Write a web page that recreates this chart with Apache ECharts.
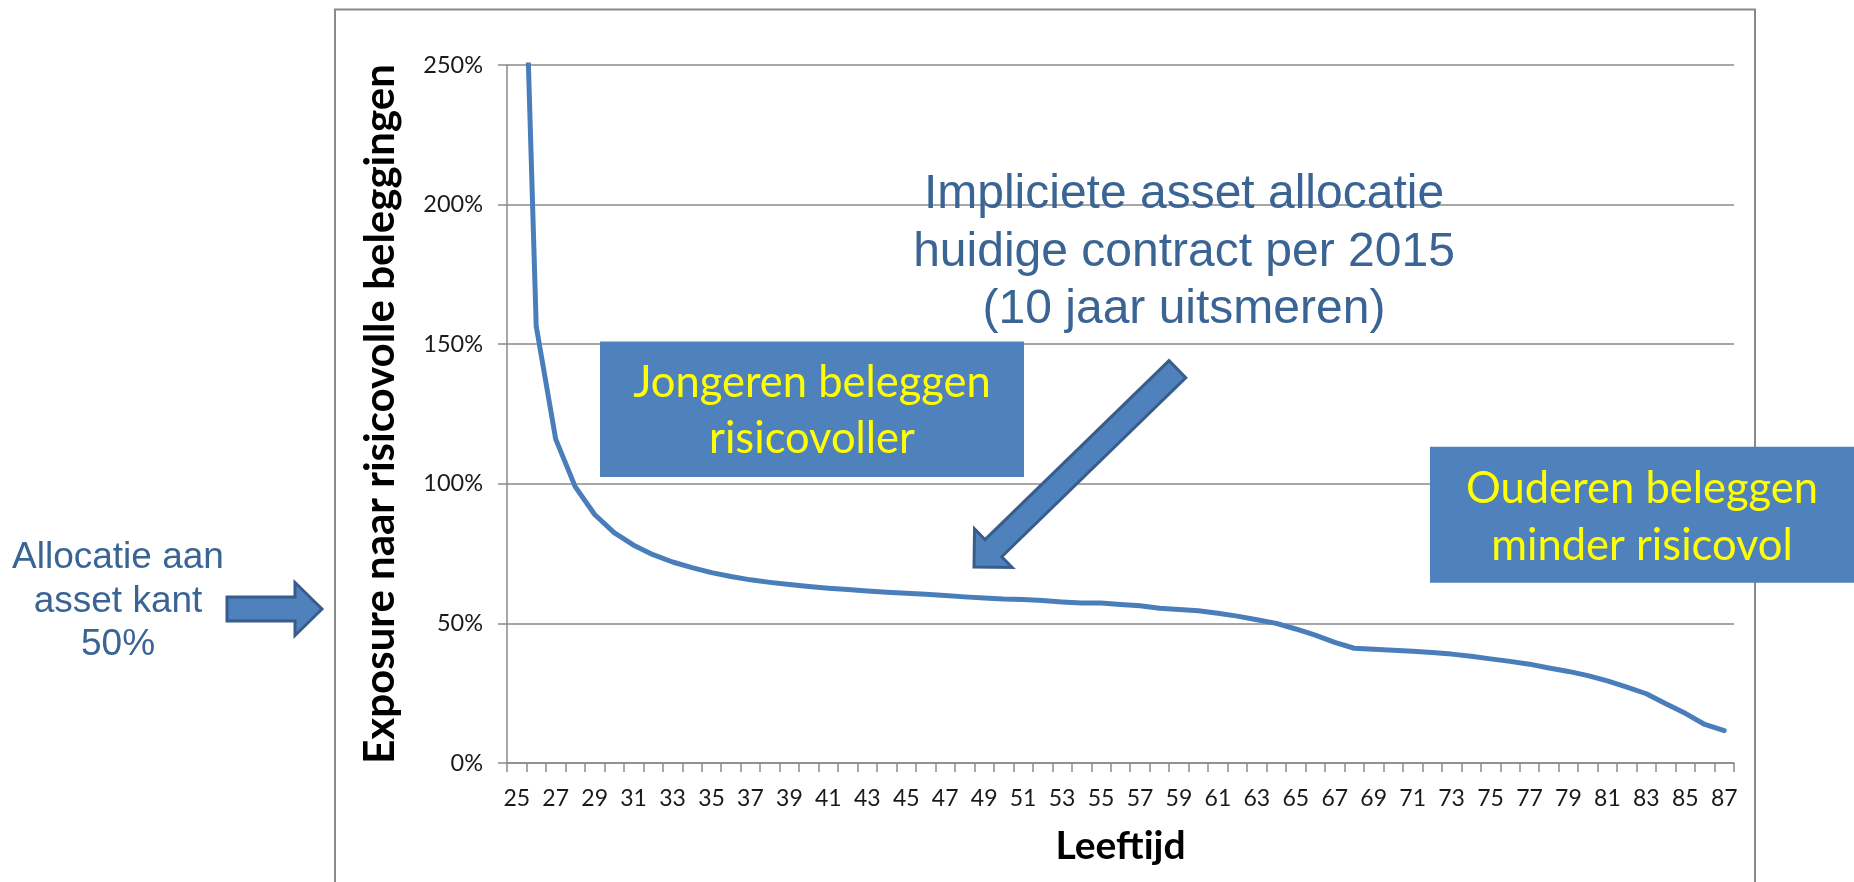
<!DOCTYPE html>
<html>
<head>
<meta charset="utf-8">
<script src="https://cdn.jsdelivr.net/npm/echarts@6/dist/echarts.min.js"></script>
<style>
html,body{margin:0;padding:0;background:#fff;}
#chart{width:1854px;height:882px;}
</style>
</head>
<body>
<div id="chart"></div>
<script>
// ---- data ----
const ages = ['25','26','27','28','29','30','31','32','33','34','35','36','37','38','39','40','41','42','43','44','45','46','47','48','49','50','51','52','53','54','55','56','57','58','59','60','61','62','63','64','65','66','67','68','69','70','71','72','73','74','75','76','77','78','79','80','81','82','83','84','85','86','87'];
const exposure = [390, 156.5, 116, 99, 89, 82.5, 78, 74.6, 72, 70, 68.2, 66.8, 65.6, 64.7, 63.9, 63.2, 62.6, 62.1, 61.6, 61.2, 60.8, 60.4, 60.0, 59.5, 59.1, 58.7, 58.6, 58.2, 57.7, 57.3, 57.3, 56.8, 56.3, 55.4, 55.0, 54.5, 53.6, 52.6, 51.3, 50.0, 48.0, 45.8, 43.2, 41.1, 40.7, 40.4, 40.0, 39.6, 39.0, 38.2, 37.3, 36.4, 35.4, 34.0, 32.8, 31.3, 29.4, 27.2, 24.8, 21.2, 17.8, 13.8, 11.6];
const yAxisMin = 0, yAxisMax = 250, yAxisStep = 50;
const yAxisTitle = 'Exposure naar risicovolle beleggingen';
const xAxisTitle = 'Leeftijd';
const noteTop = 'Impliciete asset allocatie\nhuidige contract per 2015\n(10 jaar uitsmeren)';
const noteYoung = 'Jongeren beleggen\nrisicovoller';
const noteOld = 'Ouderen beleggen\nminder risicovol';
const noteLeft = 'Allocatie aan\nasset kant\n50%';

// ---- styles ----
const gray = '#8a8a8a';
const boxFill = '#4F81BD';
const arrowStroke = '#385D8A';
const noteColor = '#3A6494';

function blockArrow(tip, tail, halfShaft, headLen, halfHead) {
  const dx = tip[0] - tail[0], dy = tip[1] - tail[1];
  const L = Math.hypot(dx, dy);
  const u = [dx / L, dy / L];
  const p = [-u[1], u[0]];
  const hb = [tip[0] - u[0] * headLen, tip[1] - u[1] * headLen];
  const pt = (b, s) => [b[0] + p[0] * s, b[1] + p[1] * s];
  return [pt(tail, halfShaft), pt(hb, halfShaft), pt(hb, halfHead), tip,
          pt(hb, -halfHead), pt(hb, -halfShaft), pt(tail, -halfShaft)];
}

const chart = echarts.init(document.getElementById('chart'), null, {renderer: 'canvas'});
chart.setOption({
  animation: false,
  backgroundColor: '#ffffff',
  grid: {left: 507, right: 120, top: 65, bottom: 119, containLabel: false},
  xAxis: {
    type: 'category',
    data: ages,
    boundaryGap: true,
    name: xAxisTitle,
    nameLocation: 'middle',
    nameGap: 64,
    nameTextStyle: {fontFamily: 'Lato', fontWeight: 'bold', fontSize: 39, color: '#000'},
    axisLine: {show: true, lineStyle: {color: gray, width: 1.5}},
    axisTick: {show: true, interval: 0, length: 9, lineStyle: {color: gray, width: 1.5}},
    axisLabel: {interval: 1, margin: 24, fontFamily: 'Lato', fontSize: 23, color: '#1a1a1a'},
    splitLine: {show: false}
  },
  yAxis: {
    type: 'value',
    min: yAxisMin, max: yAxisMax, interval: yAxisStep,
    name: yAxisTitle,
    nameLocation: 'middle',
    nameGap: 106,
    nameTextStyle: {fontFamily: 'Lato', fontWeight: 'bold', fontSize: 42, color: '#000'},
    axisLine: {show: true, lineStyle: {color: gray, width: 1.5}},
    axisTick: {show: true, length: 9, lineStyle: {color: gray, width: 1.5}},
    axisLabel: {margin: 24, fontFamily: 'Lato', fontSize: 23.5, color: '#1a1a1a', formatter: '{value}%'},
    splitLine: {show: true, lineStyle: {color: gray, width: 1.5}}
  },
  series: [{
    type: 'line',
    data: exposure,
    symbol: 'none',
    smooth: false,
    clip: true,
    lineStyle: {color: '#4A7EBB', width: 5, join: 'round', cap: 'round'},
    z: 3
  }],
  graphic: [
    {type: 'rect', shape: {x: 335, y: 9.5, width: 1420, height: 900}, style: {fill: 'none', stroke: gray, lineWidth: 2}, z: 0, silent: true},
    {type: 'rect', shape: {x: 600, y: 341.5, width: 424, height: 135.5}, style: {fill: boxFill}, z: 10},
    {type: 'text', style: {text: noteYoung, x: 812, y: 411, textAlign: 'center', textVerticalAlign: 'middle', fontFamily: 'Lato', fontSize: 43.5, lineHeight: 56.7, fill: '#FFFF00'}, z: 11},
    {type: 'rect', shape: {x: 1430, y: 446.7, width: 430, height: 136}, style: {fill: boxFill}, z: 10},
    {type: 'text', style: {text: noteOld, x: 1642, y: 517.7, textAlign: 'center', textVerticalAlign: 'middle', fontFamily: 'Lato', fontSize: 43.5, lineHeight: 56.7, fill: '#FFFF00'}, z: 11},
    {type: 'text', style: {text: noteTop, x: 1184, y: 252.4, textAlign: 'center', textVerticalAlign: 'middle', fontFamily: 'Liberation Sans', fontSize: 48, lineHeight: 57.8, fill: noteColor}, z: 11},
    {type: 'polygon', shape: {points: blockArrow([974, 567], [1177.4, 369.2], 12, 27, 27)}, style: {fill: boxFill, stroke: arrowStroke, lineWidth: 3, lineJoin: 'miter'}, z: 10},
    {type: 'text', style: {text: noteLeft, x: 118, y: 601.5, textAlign: 'center', textVerticalAlign: 'middle', fontFamily: 'Liberation Sans', fontSize: 37, lineHeight: 43.3, fill: noteColor}, z: 11},
    {type: 'polygon', shape: {points: blockArrow([322, 609], [227, 609], 12, 27, 26.5)}, style: {fill: boxFill, stroke: arrowStroke, lineWidth: 3, lineJoin: 'miter'}, z: 10}
  ]
});
</script>
</body>
</html>
